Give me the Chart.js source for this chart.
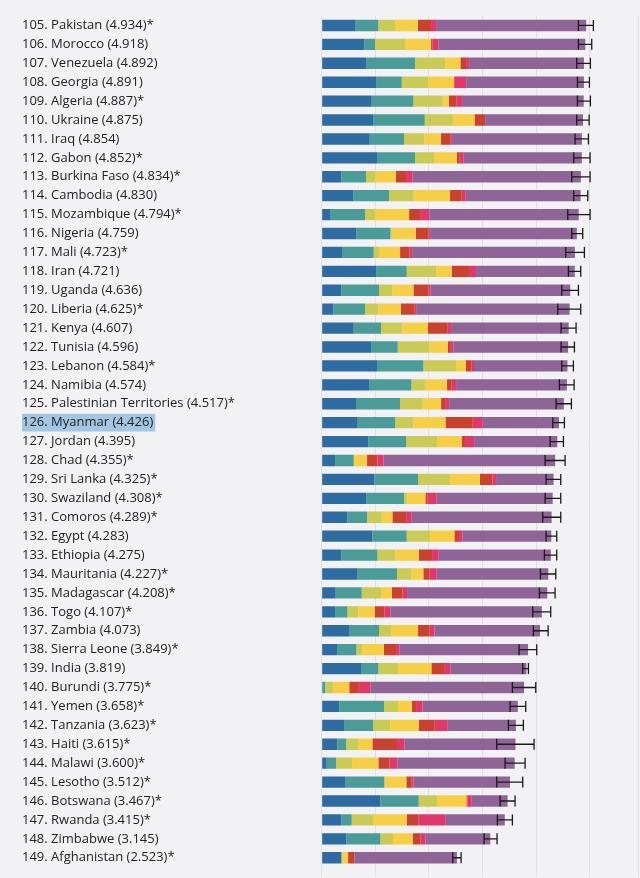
<!DOCTYPE html>
<html>
<head>
<meta charset="utf-8">
<script src="https://cdn.jsdelivr.net/npm/chart.js@4/dist/chart.umd.min.js"></script>
<style>
  html, body { margin: 0; padding: 0; background: #f2f2f4; }
  #wrap { width: 640px; height: 878px; position: relative; }
</style>
</head>
<body>
<div id="wrap"><canvas id="happyChart"></canvas></div>
<script>
const labels = [
  '105. Pakistan (4.934)*', '106. Morocco (4.918)', '107. Venezuela (4.892)', '108. Georgia (4.891)',
  '109. Algeria (4.887)*', '110. Ukraine (4.875)', '111. Iraq (4.854)', '112. Gabon (4.852)*',
  '113. Burkina Faso (4.834)*', '114. Cambodia (4.830)', '115. Mozambique (4.794)*', '116. Nigeria (4.759)',
  '117. Mali (4.723)*', '118. Iran (4.721)', '119. Uganda (4.636)', '120. Liberia (4.625)*',
  '121. Kenya (4.607)', '122. Tunisia (4.596)', '123. Lebanon (4.584)*', '124. Namibia (4.574)',
  '125. Palestinian Territories (4.517)*', '126. Myanmar (4.426)', '127. Jordan (4.395)', '128. Chad (4.355)*',
  '129. Sri Lanka (4.325)*', '130. Swaziland (4.308)*', '131. Comoros (4.289)*', '132. Egypt (4.283)',
  '133. Ethiopia (4.275)', '134. Mauritania (4.227)*', '135. Madagascar (4.208)*', '136. Togo (4.107)*',
  '137. Zambia (4.073)', '138. Sierra Leone (3.849)*', '139. India (3.819)', '140. Burundi (3.775)*',
  '141. Yemen (3.658)*', '142. Tanzania (3.623)*', '143. Haiti (3.615)*', '144. Malawi (3.600)*',
  '145. Lesotho (3.512)*', '146. Botswana (3.467)*', '147. Rwanda (3.415)*', '148. Zimbabwe (3.145)',
  '149. Afghanistan (2.523)*'
];
const highlightIndex = 21;

const gdp = [0.634,0.796,0.827,1.014,0.933,0.958,0.896,1.032,0.367,0.591,0.168,0.641,0.379,1.014,0.367,0.218,0.597,0.920,1.032,0.883,0.641,0.672,0.871,0.249,0.983,0.833,0.479,0.945,0.367,0.659,0.261,0.249,0.522,0.286,0.734,0.010,0.330,0.417,0.292,0.093,0.435,1.095,0.367,0.460,0.367];
const social = [0.423,0.199,0.914,0.479,0.777,0.964,0.641,0.709,0.460,0.665,0.641,0.641,0.591,0.572,0.703,0.591,0.510,0.498,0.864,0.790,0.821,0.697,0.703,0.348,0.815,0.703,0.367,0.641,0.672,0.746,0.485,0.230,0.547,0.361,0.323,0.056,0.833,0.541,0.162,0.174,0.734,0.715,0.193,0.634,0.000];
const health = [0.311,0.560,0.560,0.498,0.547,0.529,0.379,0.354,0.174,0.460,0.187,0.025,0.100,0.547,0.249,0.249,0.398,0.591,0.609,0.261,0.423,0.342,0.578,0.000,0.597,0.062,0.274,0.435,0.336,0.267,0.361,0.205,0.230,0.106,0.367,0.143,0.261,0.317,0.224,0.299,0.000,0.342,0.410,0.236,0.025];
const freedom = [0.423,0.485,0.286,0.479,0.112,0.398,0.305,0.429,0.379,0.678,0.634,0.448,0.392,0.292,0.392,0.417,0.473,0.342,0.180,0.404,0.342,0.597,0.460,0.249,0.553,0.336,0.199,0.454,0.435,0.224,0.199,0.305,0.498,0.404,0.622,0.305,0.255,0.535,0.267,0.491,0.410,0.547,0.616,0.367,0.100];
const generosity = [0.249,0.025,0.106,0.000,0.149,0.199,0.187,0.050,0.193,0.218,0.205,0.236,0.174,0.323,0.280,0.249,0.373,0.044,0.112,0.087,0.075,0.510,0.062,0.193,0.236,0.044,0.255,0.087,0.249,0.118,0.199,0.180,0.218,0.230,0.236,0.180,0.081,0.299,0.460,0.205,0.100,0.019,0.218,0.143,0.118];
const corruption = [0.093,0.112,0.056,0.224,0.100,0.000,0.020,0.075,0.124,0.075,0.174,0.031,0.050,0.131,0.037,0.037,0.062,0.062,0.044,0.081,0.075,0.187,0.168,0.112,0.068,0.168,0.106,0.062,0.124,0.131,0.087,0.112,0.087,0.062,0.118,0.211,0.118,0.243,0.137,0.149,0.031,0.081,0.510,0.093,0.000];
const dystopia = [2.801,2.741,2.143,2.197,2.269,1.827,2.426,2.203,3.137,2.143,2.785,2.737,3.037,1.842,2.608,2.864,2.194,2.139,1.743,2.068,2.140,1.421,1.553,3.204,1.073,2.162,2.609,1.659,2.092,2.082,2.616,2.826,1.971,2.400,1.419,2.870,1.780,1.271,2.073,2.189,1.802,0.668,1.101,1.212,1.913];

const ciLow = [4.789,4.789,4.757,4.770,4.770,4.757,4.726,4.701,4.664,4.701,4.590,4.664,4.552,4.602,4.478,4.403,4.465,4.465,4.478,4.434,4.372,4.310,4.260,4.167,4.185,4.167,4.123,4.185,4.154,4.080,4.061,3.937,3.949,3.682,3.750,3.557,3.514,3.483,3.265,3.420,3.265,3.327,3.277,3.029,2.444];
const ciHigh = [5.068,5.037,5.012,4.994,5.012,4.988,4.975,5.006,5.006,4.963,5.006,4.869,4.900,4.832,4.789,4.832,4.745,4.714,4.695,4.708,4.658,4.527,4.509,4.540,4.459,4.459,4.459,4.384,4.384,4.366,4.353,4.272,4.223,4.011,3.856,3.993,3.806,3.762,3.961,3.794,3.750,3.607,3.557,3.271,2.600];

const series = [
  ['GDP per capita', gdp, '#2d6ba1'],
  ['Social support', social, '#4b9b98'],
  ['Healthy life expectancy', health, '#cacb56'],
  ['Freedom', freedom, '#f6cf46'],
  ['Generosity', generosity, '#c9412f'],
  ['Perceptions of corruption', corruption, '#e0386b'],
  ['Dystopia + residual', dystopia, '#8f6598'],
];

// whiskers for the confidence interval
const errorBars = {
  id: 'errorBars',
  afterDatasetsDraw(chart) {
    const { ctx, scales: { x, y } } = chart;
    ctx.save();
    ctx.strokeStyle = '#1a1a1a';
    ctx.lineWidth = 1.3;
    ciLow.forEach((lo, i) => {
      const yy = y.getPixelForValue(i);
      const x1 = x.getPixelForValue(lo);
      const x2 = x.getPixelForValue(ciHigh[i]);
      ctx.beginPath();
      ctx.moveTo(x1, yy); ctx.lineTo(x2, yy);
      ctx.moveTo(x1, yy - 5.5); ctx.lineTo(x1, yy + 5.5);
      ctx.moveTo(x2, yy - 5.5); ctx.lineTo(x2, yy + 5.5);
      ctx.stroke();
    });
    ctx.restore();
  }
};

new Chart(document.getElementById('happyChart'), {
  type: 'bar',
  data: {
    labels: labels,
    datasets: series.map(s => ({
      label: s[0],
      data: s[1],
      backgroundColor: s[2],
      borderWidth: 0,
      barPercentage: 0.6,
      categoryPercentage: 1,
    })),
  },
  options: {
    indexAxis: 'y',
    responsive: true,
    maintainAspectRatio: false,
    animation: false,
    layout: { padding: { left: 22, right: 2, top: 16, bottom: 0 } },
    plugins: { legend: { display: false }, tooltip: { enabled: false } },
    scales: {
      x: {
        stacked: true,
        min: 0,
        max: 5.9,
        ticks: { display: false, stepSize: 1 },
        grid: { color: '#dfdfe4', lineWidth: 1, drawTicks: true, tickLength: 9.3 },
        border: { display: false },
      },
      y: {
        stacked: true,
        afterFit(scale) { scale.width = 299.7; },
        grid: { display: false },
        border: { display: false },
        ticks: {
          crossAlign: 'far',
          autoSkip: false,
          color: '#222222',
          font: { family: 'Open Sans', size: 13 },
          showLabelBackdrop: ctx => ctx.index === highlightIndex,
          backdropColor: '#a3c6e3',
          backdropPadding: { x: 2, y: 1 },
        },
      },
    },
  },
  plugins: [errorBars],
});
</script>
</body>
</html>
